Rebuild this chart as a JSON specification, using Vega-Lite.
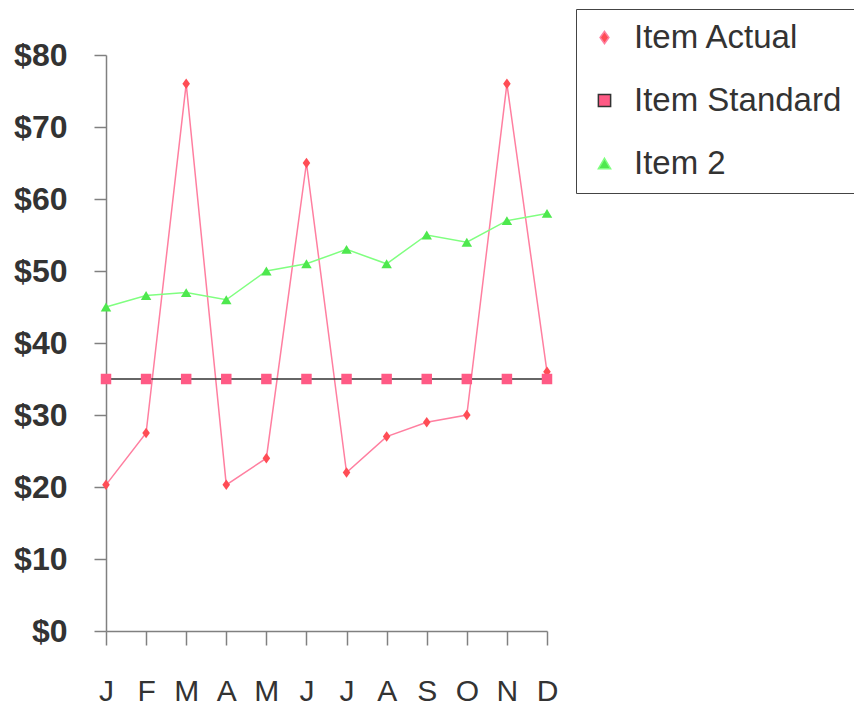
{
  "$schema": "https://vega.github.io/schema/vega-lite/v6.json",
  "width": 441,
  "height": 576,
  "autosize": {"type": "none"},
  "padding": {"left": 106, "top": 55, "right": 307, "bottom": 80},
  "background": "white",
  "config": {
    "view": {"stroke": null},
    "legend": {
      "title": null,
      "orient": "none",
      "legendX": 470,
      "legendY": -46,
      "padding": 12,
      "strokeColor": "#444444",
      "fillColor": "white",
      "symbolSize": 150,
      "symbolStrokeWidth": 1.5,
      "labelFont": "Liberation Sans",
      "labelFontSize": 33,
      "labelColor": "#333333",
      "labelOffset": 13,
      "labelLimit": 400,
      "rowPadding": 29
    }
  },
  "data": {
    "values": [
      {"month": "Jan", "series": "Item Actual", "value": 20.3},
      {"month": "Feb", "series": "Item Actual", "value": 27.5},
      {"month": "Mar", "series": "Item Actual", "value": 76},
      {"month": "Apr", "series": "Item Actual", "value": 20.3},
      {"month": "May", "series": "Item Actual", "value": 24},
      {"month": "Jun", "series": "Item Actual", "value": 65},
      {"month": "Jul", "series": "Item Actual", "value": 22},
      {"month": "Aug", "series": "Item Actual", "value": 27},
      {"month": "Sep", "series": "Item Actual", "value": 29},
      {"month": "Oct", "series": "Item Actual", "value": 30},
      {"month": "Nov", "series": "Item Actual", "value": 76},
      {"month": "Dec", "series": "Item Actual", "value": 36},
      {"month": "Jan", "series": "Item Standard", "value": 35},
      {"month": "Feb", "series": "Item Standard", "value": 35},
      {"month": "Mar", "series": "Item Standard", "value": 35},
      {"month": "Apr", "series": "Item Standard", "value": 35},
      {"month": "May", "series": "Item Standard", "value": 35},
      {"month": "Jun", "series": "Item Standard", "value": 35},
      {"month": "Jul", "series": "Item Standard", "value": 35},
      {"month": "Aug", "series": "Item Standard", "value": 35},
      {"month": "Sep", "series": "Item Standard", "value": 35},
      {"month": "Oct", "series": "Item Standard", "value": 35},
      {"month": "Nov", "series": "Item Standard", "value": 35},
      {"month": "Dec", "series": "Item Standard", "value": 35},
      {"month": "Jan", "series": "Item 2", "value": 45},
      {"month": "Feb", "series": "Item 2", "value": 46.6},
      {"month": "Mar", "series": "Item 2", "value": 47},
      {"month": "Apr", "series": "Item 2", "value": 46},
      {"month": "May", "series": "Item 2", "value": 50},
      {"month": "Jun", "series": "Item 2", "value": 51},
      {"month": "Jul", "series": "Item 2", "value": 53},
      {"month": "Aug", "series": "Item 2", "value": 51},
      {"month": "Sep", "series": "Item 2", "value": 55},
      {"month": "Oct", "series": "Item 2", "value": 54},
      {"month": "Nov", "series": "Item 2", "value": 57},
      {"month": "Dec", "series": "Item 2", "value": 58}
    ]
  },
  "encoding": {
    "x": {
      "field": "month",
      "type": "ordinal",
      "sort": ["Jan","Feb","Mar","Apr","May","Jun","Jul","Aug","Sep","Oct","Nov","Dec"],
      "scale": {"type": "point", "padding": 0},
      "axis": {
        "title": null,
        "labelExpr": "substring(datum.label, 0, 1)",
        "labelAngle": 0,
        "labelFont": "Liberation Sans",
        "labelFontSize": 30,
        "labelColor": "#333333",
        "labelPadding": 31,
        "tickSize": 14,
        "tickColor": "#808080",
        "domainColor": "#808080",
        "tickWidth": 1.5,
        "domainWidth": 1.5,
        "grid": false
      }
    },
    "y": {
      "field": "value",
      "type": "quantitative",
      "scale": {"domain": [0, 80], "nice": false, "zero": true},
      "axis": {
        "title": null,
        "values": [0,10,20,30,40,50,60,70,80],
        "labelExpr": "'$' + datum.value",
        "labelFont": "Liberation Sans",
        "labelFontWeight": "bold",
        "labelFontSize": 32,
        "labelColor": "#333333",
        "labelPadding": 27,
        "tickSize": 12,
        "tickColor": "#808080",
        "domainColor": "#808080",
        "tickWidth": 1.5,
        "domainWidth": 1.5,
        "grid": false
      }
    }
  },
  "layer": [
    {
      "mark": {"type": "line", "strokeWidth": 1.5},
      "encoding": {
        "detail": {"field": "series"},
        "stroke": {
          "field": "series",
          "type": "nominal",
          "scale": {"domain": ["Item Actual", "Item Standard", "Item 2"], "range": ["#ff7fa0", "#333333", "#80ff80"]},
          "legend": {"labelExpr": "datum.label + '      '"}
        }
      }
    },
    {
      "mark": {"type": "point", "filled": true, "opacity": 1, "size": 110},
      "encoding": {
        "fill": {
          "field": "series",
          "type": "nominal",
          "scale": {"domain": ["Item Actual", "Item Standard", "Item 2"], "range": ["#ff4d55", "#ff5a85", "#4ee84e"]},
          "legend": {"labelExpr": "datum.label + '      '"}
        },
        "shape": {
          "field": "series",
          "type": "nominal",
          "scale": {"domain": ["Item Actual", "Item Standard", "Item 2"], "range": ["M0,-1L0.72,0L0,1L-0.72,0Z", "square", "M0,-0.85L1,0.85L-1,0.85Z"]},
          "legend": {"labelExpr": "datum.label + '      '"}
        }
      }
    }
  ]
}
